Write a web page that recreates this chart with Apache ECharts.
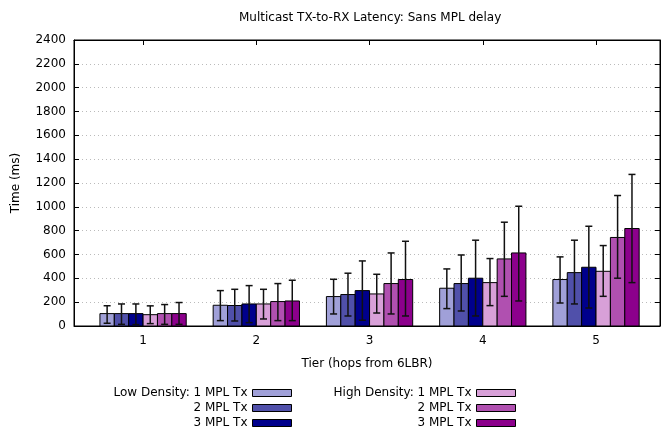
<!DOCTYPE html>
<html>
<head>
    <meta charset="UTF-8">
    <title>Multicast TX-to-RX Latency</title>
    <script src="https://cdn.jsdelivr.net/npm/echarts@6/dist/echarts.min.js"></script>
    <style>
        body { margin: 0; background: #fff; }
        #chart { width: 662px; height: 429px; }
    </style>
</head>
<body>
    <div id="chart"></div>
    <script>
        // tiers (hops from 6LBR)
        var tiers = ['1', '2', '3', '4', '5'];

        // mean latency per series, with lower / upper error bar ends
        var low1Val = [104, 174, 247, 317, 390];
        var low1Lo  = [23, 45, 101, 146, 193];
        var low1Hi  = [170, 297, 392, 479, 580];

        var low2Val = [104, 172, 264, 356, 448];
        var low2Lo  = [14, 42, 84, 126, 185];
        var low2Hi  = [185, 308, 443, 596, 720];

        var low3Val = [104, 185, 297, 401, 493];
        var low3Lo  = [12, 28, 48, 84, 151];
        var low3Hi  = [185, 339, 546, 720, 837];

        var high1Val = [95, 185, 269, 364, 459];
        var high1Lo  = [20, 59, 109, 171, 249];
        var high1Hi  = [169, 308, 434, 566, 675];

        var high2Val = [104, 205, 356, 563, 743];
        var high2Lo  = [14, 45, 101, 249, 401];
        var high2Hi  = [180, 356, 613, 871, 1095];

        var high3Val = [104, 210, 390, 613, 818];
        var high3Lo  = [14, 45, 84, 210, 364];
        var high3Hi  = [197, 384, 711, 1005, 1272];

        var seriesDefs = [
            { name: 'Low Density: 1 MPL Tx',  label: 'Low Density: 1 MPL Tx',  color: '#a0a0d8', v: low1Val,  lo: low1Lo,  hi: low1Hi },
            { name: 'Low Density: 2 MPL Tx',  label: '2 MPL Tx',               color: '#5050aa', v: low2Val,  lo: low2Lo,  hi: low2Hi },
            { name: 'Low Density: 3 MPL Tx',  label: '3 MPL Tx',               color: '#00008c', v: low3Val,  lo: low3Lo,  hi: low3Hi },
            { name: 'High Density: 1 MPL Tx', label: 'High Density: 1 MPL Tx', color: '#d8a0d8', v: high1Val, lo: high1Lo, hi: high1Hi },
            { name: 'High Density: 2 MPL Tx', label: '2 MPL Tx',               color: '#b050b0', v: high2Val, lo: high2Lo, hi: high2Hi },
            { name: 'High Density: 3 MPL Tx', label: '3 MPL Tx',               color: '#8c008c', v: high3Val, lo: high3Lo, hi: high3Hi }
        ];

        var barFrac = 0.127;   // bar width as a fraction of one tier
        var font = 'DejaVu Sans';

        function makeRender(k, color) {
            return function (params, api) {
                var x = api.value(0);
                var unit = api.size([1, 0])[0];
                var w = unit * barFrac;
                var base = api.coord([x, 0]);
                var left = base[0] + (k - 3) * w;
                var top = api.coord([x, api.value(1)])[1];
                var yLo = api.coord([x, api.value(2)])[1];
                var yHi = api.coord([x, api.value(3)])[1];
                var mid = left + w / 2;
                var cap = 3.5;
                var es = { stroke: '#111', lineWidth: 1.5 };
                return {
                    type: 'group',
                    children: [
                        { type: 'rect', shape: { x: left, y: top, width: w, height: base[1] - top },
                          style: { fill: color, stroke: '#000', lineWidth: 1 } },
                        { type: 'line', shape: { x1: mid, y1: yLo, x2: mid, y2: yHi }, style: es },
                        { type: 'line', shape: { x1: mid - cap, y1: yLo, x2: mid + cap, y2: yLo }, style: es },
                        { type: 'line', shape: { x1: mid - cap, y1: yHi, x2: mid + cap, y2: yHi }, style: es }
                    ]
                };
            };
        }

        var series = seriesDefs.map(function (d, k) {
            return {
                name: d.name,
                type: 'custom',
                renderItem: makeRender(k, d.color),
                itemStyle: { color: d.color, borderColor: '#000', borderWidth: 1 },
                encode: { x: 0, y: 1 },
                data: tiers.map(function (t, i) { return [i, d.v[i], d.lo[i], d.hi[i]]; }),
                z: 3
            };
        });

        // one legend per entry so the texts line up on the right
        var legendRows = [392, 407, 422];
        var legends = seriesDefs.map(function (d, k) {
            var col = k < 3 ? 0 : 1;
            return {
                data: [d.name],
                formatter: function () { return d.label; },
                right: col === 0 ? 370 : 146,
                top: legendRows[k % 3] - 5,
                align: 'right',
                orient: 'vertical',
                padding: 0,
                itemWidth: 39,
                itemHeight: 7,
                icon: 'rect',
                selectedMode: false,
                itemStyle: { borderColor: '#000', borderWidth: 1 },
                textStyle: { fontFamily: font, fontSize: 12, color: '#000' }
            };
        });

        var xMin = -0.61, xMax = 4.565;
        var tickVals = [0, 1, 2, 3, 4];

        var chart = echarts.init(document.getElementById('chart'));
        chart.setOption({
            animation: false,
            title: {
                text: 'Multicast TX-to-RX Latency: Sans MPL delay',
                left: 234,
                top: 7,
                textStyle: { fontFamily: font, fontSize: 12, fontWeight: 'normal', color: '#000' }
            },
            legend: legends,
            grid: { left: 74, top: 40, width: 586, height: 286, show: true, borderColor: '#000', borderWidth: 1 },
            xAxis: [
                {
                    type: 'value', min: xMin, max: xMax, position: 'bottom',
                    name: 'Tier (hops from 6LBR)', nameLocation: 'middle', nameGap: 32,
                    nameTextStyle: { fontFamily: font, fontSize: 12, color: '#000' },
                    axisLine: { onZero: false, lineStyle: { color: '#000' } },
                    axisTick: { inside: true, length: 5, customValues: tickVals, lineStyle: { color: '#000' } },
                    axisLabel: { customValues: tickVals, formatter: function (v) { return tiers[Math.round(v)]; },
                                 fontFamily: font, fontSize: 12, color: '#000', margin: 9 },
                    splitLine: { show: false }
                },
                {
                    type: 'value', min: xMin, max: xMax, position: 'top',
                    axisLine: { onZero: false, lineStyle: { color: '#000' } },
                    axisTick: { inside: true, length: 5, customValues: tickVals, lineStyle: { color: '#000' } },
                    axisLabel: { show: false },
                    splitLine: { show: false }
                }
            ],
            yAxis: [
                {
                    type: 'value', min: 0, max: 2400, interval: 200, position: 'left',
                    name: 'Time (ms)', nameLocation: 'middle', nameGap: 52,
                    nameTextStyle: { fontFamily: font, fontSize: 12, color: '#000' },
                    axisLine: { show: true, onZero: false, lineStyle: { color: '#000' } },
                    axisTick: { show: true, inside: true, length: 5, lineStyle: { color: '#000' } },
                    axisLabel: { fontFamily: font, fontSize: 12, color: '#000', margin: 8,
                                 formatter: function (v) { return String(v); } },
                    splitLine: { show: true, lineStyle: { type: [1, 3], color: '#bbb' } }
                },
                {
                    type: 'value', min: 0, max: 2400, interval: 200, position: 'right',
                    axisLine: { show: true, onZero: false, lineStyle: { color: '#000' } },
                    axisTick: { show: true, inside: true, length: 5, lineStyle: { color: '#000' } },
                    axisLabel: { show: false },
                    splitLine: { show: false }
                }
            ],
            series: series
        });
    </script>
</body>
</html>
